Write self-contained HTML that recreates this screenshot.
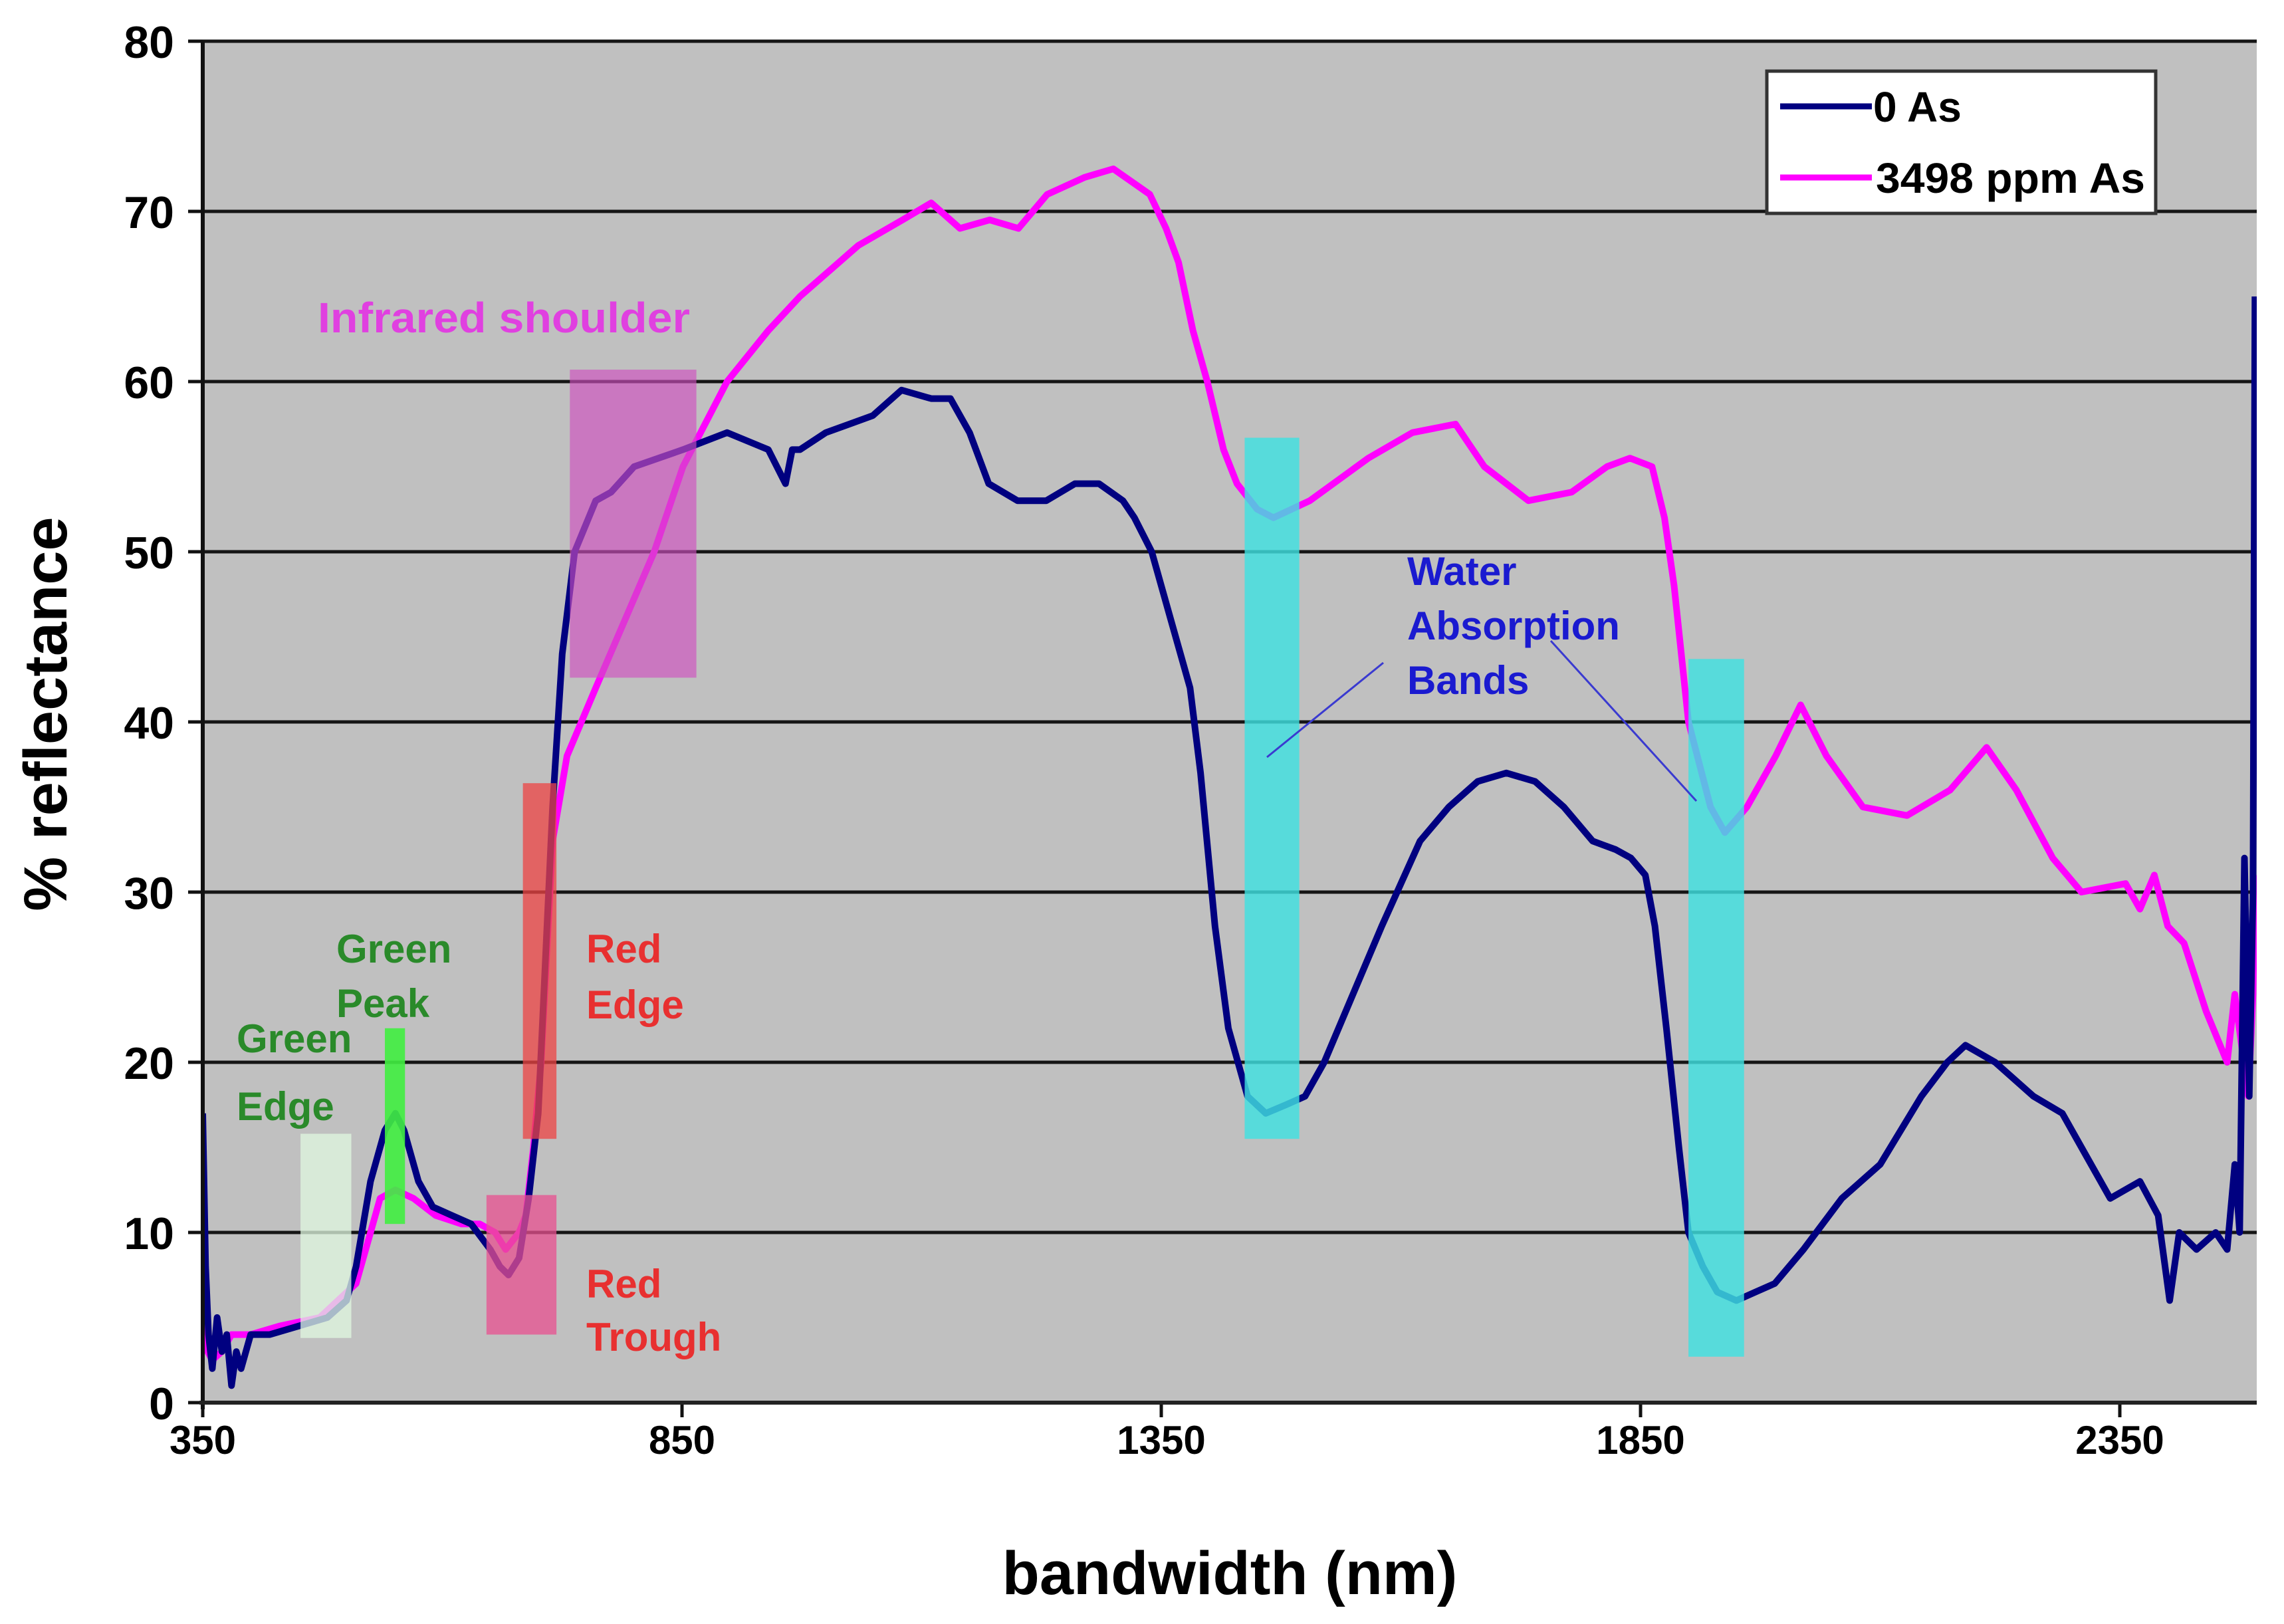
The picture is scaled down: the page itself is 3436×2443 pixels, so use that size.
<!DOCTYPE html>
<html><head><meta charset="utf-8"><style>
html,body{margin:0;padding:0;background:#fff;}
svg{display:block;font-family:"Liberation Sans",sans-serif;}
</style></head><body>
<svg id="chart" width="3436" height="2443" viewBox="0 0 3436 2443" xmlns="http://www.w3.org/2000/svg">
<defs><clipPath id="pc"><rect x="305" y="62" width="3090" height="2048"/></clipPath></defs>
<rect x="305" y="62" width="3090" height="2048" fill="#c0c0c0"/>
<g id="grid"></g>
<g id="series" clip-path="url(#pc)"></g>
<g id="boxes" clip-path="url(#pc)"></g>
<g id="axes"></g>
<g font-weight="bold" font-size="60">
<text x="478" y="500" fill="#e040e0" font-size="64" textLength="560" lengthAdjust="spacingAndGlyphs">Infrared shoulder</text>
<text x="506" y="1448" fill="#2a8a2a"><tspan x="506">Green</tspan><tspan x="506" dy="82">Peak</tspan></text>
<text x="356" y="1583" fill="#2a8a2a"><tspan x="356">Green</tspan><tspan x="356" dy="102">Edge</tspan></text>
<text x="882" y="1448" fill="#e83030"><tspan x="882">Red</tspan><tspan x="882" dy="84">Edge</tspan></text>
<text x="882" y="1952" fill="#e83030"><tspan x="882">Red</tspan><tspan x="882" dy="80">Trough</tspan></text>
<text x="2117" y="880" fill="#1a1ad0"><tspan x="2117">Water</tspan><tspan x="2117" dy="82">Absorption</tspan><tspan x="2117" dy="82">Bands</tspan></text>
<line x1="2081" y1="997" x2="1906" y2="1139" stroke="#3a3ad0" stroke-width="3"/>
<line x1="2333" y1="964" x2="2552" y2="1205" stroke="#3a3ad0" stroke-width="3"/>
</g>
<g>
<rect x="2658" y="107" width="585" height="214" fill="#fff" stroke="#333" stroke-width="5"/>
<line x1="2678" y1="160" x2="2816" y2="160" stroke="#000080" stroke-width="9"/>
<text x="2818" y="183" font-size="64" font-weight="bold">0 As</text>
<line x1="2678" y1="267" x2="2816" y2="267" stroke="#ff00ff" stroke-width="9"/>
<text x="2822" y="290" font-size="64" font-weight="bold" textLength="405" lengthAdjust="spacingAndGlyphs">3498 ppm As</text>
</g>
<text x="1850" y="2398" text-anchor="middle" font-size="92" font-weight="bold">bandwidth (nm)</text>
<text transform="translate(100,1074) rotate(-90)" text-anchor="middle" font-size="92" font-weight="bold">% reflectance</text>
</svg>
<script>
const wlBlue=[350,353,356,360,365,370,375,380,385,390,400,420,450,480,500,510,525,540,551,560,575,590,610,630,650,660,669,680,690,700,715,725,738,760,776,800,851,897,940,958,965,973,1000,1049,1079,1110,1130,1150,1170,1200,1230,1260,1285,1310,1322,1340,1360,1380,1391,1406,1420,1440,1459,1480,1500,1520,1550,1580,1620,1650,1680,1710,1740,1770,1800,1824,1840,1855,1865,1877,1890,1900,1915,1930,1950,1970,1990,2020,2060,2100,2143,2170,2189,2220,2260,2290,2310,2340,2371,2390,2402,2412,2430,2450,2462,2470,2475,2480,2485,2489,2491];
const refBlue=[17,8,4,2,5,3,4,1,3,2,4,4,4.5,5,6,8,13,16,17,16,13,11.5,11,10.5,9,8,7.5,8.5,12,17,35,44,50,53,53.5,55,56,57,56,54,56,56,57,58,59.5,59,59,57,54,53,53,54,54,53,52,50,46,42,37,28,22,18,17,17.5,18,20,24,28,33,35,36.5,37,36.5,35,33,32.5,32,31,28,22,15,10,8,6.5,6,6.5,7,9,12,14,18,20,21,20,18,17,15,12,13,11,6,10,9,10,9,14,10,32,18,30,65];
const wlMag=[350,355,360,370,380,400,430,472,510,525,535,551,570,593,620,639,655,666,680,687,695,703,715,730,760,821,851,897,940,973,1034,1080,1110,1140,1171,1201,1231,1270,1300,1338,1355,1368,1383,1398,1415,1429,1450,1467,1505,1566,1612,1657,1687,1733,1778,1815,1839,1862,1875,1885,1900,1923,1938,1961,1991,2017,2044,2082,2128,2173,2211,2242,2280,2310,2356,2371,2386,2400,2417,2440,2462,2470,2477,2484,2489,2491];
const refMag=[7,3,2.5,3,4,4,4.5,5,7,10,12,12.5,12,11,10.5,10.5,10,9,10,11,15,20,33,38,42,50,55,60,63,65,68,69.5,70.5,69,69.5,69,71,72,72.5,71,69,67,63,60,56,54,52.5,52,53,55.5,57,57.5,55,53,53.5,55,55.5,55,52,48,40,35,33.5,35,38,41,38,35,34.5,36,38.5,36,32,30,30.5,29,31,28,27,23,20,24,21,18,24,31];
const yTicks=[0,10,20,30,40,50,60,70,80];
const xTicks=[350,850,1350,1850,2350];
const bandBoxes=[
 {name:'green-edge-box',x0:452,x1:505,y0:3.8,y1:15.8,fill:'#e0f8e0',op:0.75},
 {name:'green-peak-box',x0:540,x1:561,y0:10.5,y1:22,fill:'#40ee40',op:0.9},
 {name:'red-trough-box',x0:646,x1:719,y0:4,y1:12.2,fill:'#e85090',op:0.75},
 {name:'red-edge-box',x0:684,x1:719,y0:15.5,y1:36.4,fill:'#ee4444',op:0.75},
 {name:'infrared-shoulder-box',x0:733,x1:865,y0:42.6,y1:60.7,fill:'#d050c0',op:0.65},
 {name:'water-band-1-box',x0:1437,x1:1494,y0:15.5,y1:56.7,fill:'#40e0e0',op:0.82},
 {name:'water-band-2-box',x0:1900,x1:1958,y0:2.7,y1:43.7,fill:'#40e0e0',op:0.82}
];
const NS='http://www.w3.org/2000/svg';
const X0=305,XS=721/500,Y0=2110,YS=25.6;
function xs(v){return X0+(v-350)*XS;}
function ys(v){return Y0-v*YS;}
function mk(tag,attrs,parent){const e=document.createElementNS(NS,tag);for(const k in attrs)e.setAttribute(k,attrs[k]);parent.appendChild(e);return e;}
const grid=document.getElementById('grid'),axes=document.getElementById('axes'),series=document.getElementById('series'),boxes=document.getElementById('boxes');
yTicks.forEach(t=>{
 if(t>0){const l=mk('line',{x1:305,x2:3395,y1:ys(t),y2:ys(t),stroke:'#151515','stroke-width':5},grid);
 
 }
 const tk=mk('line',{x1:283,x2:305,y1:ys(t),y2:ys(t),stroke:'#111','stroke-width':5},axes);
 
 
 const tx=mk('text',{x:262,y:ys(t)+25,'text-anchor':'end','font-size':68,'font-weight':'bold'},axes);
 tx.textContent=t;
 
 
});
xTicks.forEach(t=>{
 const tk=mk('line',{x1:xs(t),x2:xs(t),y1:2110,y2:2132,stroke:'#111','stroke-width':5},axes);
 
 
 const tx=mk('text',{x:xs(t),y:2187,'text-anchor':'middle','font-size':60,'font-weight':'bold'},axes);
 tx.textContent=t;
 
 
});
const ya=mk('line',{x1:305,x2:305,y1:62,y2:2120,stroke:'#111','stroke-width':6},axes);


const xa=mk('line',{x1:300,x2:3395,y1:2110,y2:2110,stroke:'#222','stroke-width':6},axes);


function pathD(w,r){return w.map((v,i)=>(i?'L':'M')+xs(v).toFixed(1)+','+ys(r[i]).toFixed(1)).join(' ');}
const pm=mk('path',{d:pathD(wlMag,refMag),fill:'none',stroke:'#ff00ff','stroke-width':10,'stroke-linejoin':'round'},series);


const pb=mk('path',{d:pathD(wlBlue,refBlue),fill:'none',stroke:'#000080','stroke-width':10,'stroke-linejoin':'round'},series);


bandBoxes.forEach(b=>{
 const r=mk('rect',{x:xs(b.x0),y:ys(b.y1),width:xs(b.x1)-xs(b.x0),height:ys(b.y0)-ys(b.y1),fill:b.fill,'fill-opacity':b.op},boxes);
 
 
});
</script>
</body></html>
